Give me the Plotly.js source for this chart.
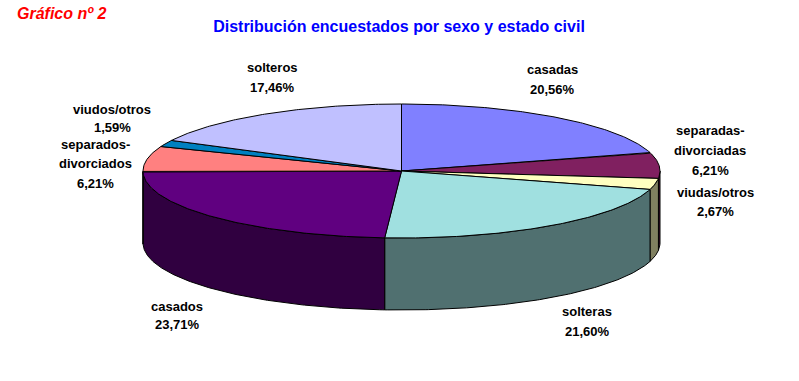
<!DOCTYPE html>
<html>
<head>
<meta charset="utf-8">
<script src="https://cdn.plot.ly/plotly-3.0.1.min.js"></script>
<style>html,body{margin:0;padding:0;background:#fff;}#chart{width:799px;height:381px;}</style>
</head>
<body>
<div id="chart"></div>
<script>
// ---- data ----
const categories = ['casadas', 'separadas-divorciadas', 'viudas/otros', 'solteras', 'casados', 'separados-divorciados', 'viudos/otros', 'solteros'];
const values = [20.56, 6.21, 2.67, 21.60, 23.71, 6.21, 1.59, 17.46];
const labelLines = [['casadas'], ['separadas-', 'divorciadas'], ['viudas/otros'], ['solteras'], ['casados'], ['separados-', 'divorciados'], ['viudos/otros'], ['solteros']];
const topColors = ['#8080FF', '#802060', '#FFFFC0', '#A0E0E0', '#600080', '#FF8080', '#0080C0', '#C0C0FF'];
const sideColors = ['#404080', '#401030', '#808060', '#507070', '#300040', '#804040', '#004060', '#606080'];
const chartTitle = 'Distribución encuestados por sexo y estado civil';
const chartTag = 'Gráfico nº 2';

// ---- geometry (pixel space) ----
const W = 799, H = 381;
const cx = 401.5, cy = 171, rx = 258.5, ry = 67, depth = 72;
// label placement: [center x, first line center y, line step]
const labelPos = [
  [552, 69, 20], [710, 130, 20], [715, 192.5, 19], [587, 311.7, 19.5],
  [177, 306, 18], [95, 144, 19.6], [112, 109.5, 18], [272, 67.5, 20]
];

const total = values.reduce((a, b) => a + b, 0);
function pt(theta, dy) {
  return [cx + rx * Math.sin(theta), cy - ry * Math.cos(theta) + (dy || 0)];
}
function arc(t0, t1, dy) {
  const n = Math.max(2, Math.ceil(Math.abs(t1 - t0) / 0.01));
  const out = [];
  for (let i = 0; i <= n; i++) out.push(pt(t0 + (t1 - t0) * i / n, dy));
  return out;
}

const walls = [], tops = [];
let cum = 0;
values.forEach((v, i) => {
  const a0 = cum / total * 2 * Math.PI;
  cum += v;
  const a1 = cum / total * 2 * Math.PI;
  // top face
  const tp = [[cx, cy]].concat(arc(a0, a1)).concat([[cx, cy]]);
  tops.push({
    type: 'scatter', mode: 'lines', fill: 'toself',
    x: tp.map(p => p[0]), y: tp.map(p => p[1]),
    fillcolor: topColors[i], line: {color: '#000', width: 1},
    hoverinfo: 'skip', showlegend: false, name: categories[i]
  });
  // visible outer wall (front half)
  const w0 = Math.max(a0, Math.PI / 2), w1 = Math.min(a1, 1.5 * Math.PI);
  if (w1 > w0) {
    const up = arc(w0, w1, 0), dn = arc(w1, w0, depth);
    const wp = up.concat(dn).concat([up[0]]);
    walls.push({
      type: 'scatter', mode: 'lines', fill: 'toself',
      x: wp.map(p => p[0]), y: wp.map(p => p[1]),
      fillcolor: sideColors[i], line: {color: '#000', width: 1},
      hoverinfo: 'skip', showlegend: false, name: categories[i] + ' lado'
    });
  }
});

const fmt = v => v.toFixed(2).replace('.', ',') + '%';
const annotations = [];
labelLines.forEach((lines, i) => {
  const [lx, ly, step] = labelPos[i];
  const all = lines.concat([fmt(values[i])]);
  all.forEach((t, k) => {
    annotations.push({
      x: lx, y: ly + k * step, xref: 'x', yref: 'y', text: t, showarrow: false,
      xanchor: 'center', yanchor: 'middle',
      font: {family: 'Arial, Liberation Sans, sans-serif', size: 13, color: '#000', weight: 'bold'}
    });
  });
});
annotations.push({
  x: 15, y: 13.5, xref: 'x', yref: 'y', text: '<b><i>' + chartTag + '</i></b>', showarrow: false,
  xanchor: 'left', yanchor: 'middle',
  font: {family: 'Arial, Liberation Sans, sans-serif', size: 16, color: '#FF0000'}
});

const layout = {
  width: W, height: H,
  margin: {l: 0, r: 0, t: 0, b: 0, pad: 0},
  paper_bgcolor: '#fff', plot_bgcolor: '#fff',
  showlegend: false,
  title: {
    text: '<b>' + chartTitle + '</b>', x: 399 / W, xanchor: 'center',
    y: 1 - 26 / H, yanchor: 'middle', xref: 'paper', yref: 'paper',
    font: {family: 'Arial, Liberation Sans, sans-serif', size: 16, color: '#0000FF'}
  },
  xaxis: {range: [0, W], visible: false, fixedrange: true},
  yaxis: {range: [H, 0], visible: false, fixedrange: true},
  annotations: annotations
};

Plotly.newPlot('chart', walls.concat(tops), layout, {staticPlot: true, displayModeBar: false});
</script>
</body>
</html>
